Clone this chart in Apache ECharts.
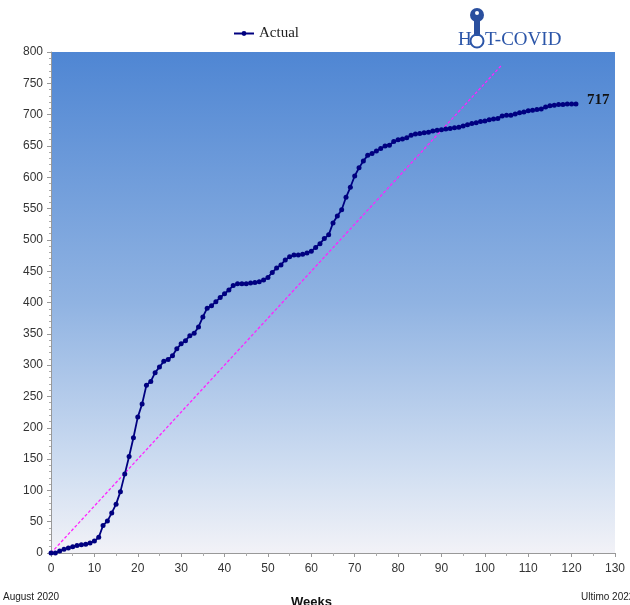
<!DOCTYPE html>
<html>
<head>
<meta charset="utf-8">
<script src="https://cdn.jsdelivr.net/npm/echarts@6/dist/echarts.min.js"></script>
<style>html,body{margin:0;padding:0;background:#fff}#c{width:630px;height:605px}</style>
</head>
<body>
<div id="c"></div>
<script>
var weeks = [];
for (var i = 0; i <= 121; i++) weeks.push(i);
var actual = [0,0,3,6,8,10,12,13,14,16,
  19,25,44,51,64,78,98,126,154,184,
  217,238,268,274,288,297,306,309,315,326,
  334,339,347,351,361,377,391,395,401,408,
  414,420,427,430,430,430,431,432,433,436,
  440,448,455,460,468,473,476,476,477,479,
  482,488,494,502,508,527,538,548,568,584,
  602,615,626,635,638,642,646,650,651,657,
  660,661,663,667,669,670,671,672,674,675,
  676,677,678,679,680,682,684,686,687,689,
  690,692,693,694,698,699,699,701,703,704,
  706,707,708,709,712,714,715,716,716,717,
  717,717];
var trendX = [0, 104];
var trendY = [0, 780];
var xTicks = {min: 0, max: 130, interval: 10};
var yTicks = {min: 0, max: 800, interval: 50};

var chart = echarts.init(document.getElementById('c'));
chart.setOption({
  animation: false,
  grid: {left: 51, top: 52, right: 15, bottom: 52, show: true, borderWidth: 0,
    backgroundColor: {type: 'linear', x: 0, y: 0, x2: 0, y2: 1,
      colorStops: [{offset: 0, color: '#4f86d3'}, {offset: 0.5, color: '#90b3e2'}, {offset: 0.85, color: '#d3e0f2'}, {offset: 1, color: '#f2f2f7'}]}},
  legend: {data: ['Actual'], left: 228, top: 21, itemWidth: 20, itemHeight: 6, itemGap: 2,
    textStyle: {fontFamily: 'Liberation Serif', fontSize: 15, color: '#222'}},
  xAxis: {type: 'value', min: xTicks.min, max: xTicks.max, interval: xTicks.interval,
    axisLine: {lineStyle: {color: '#999'}}, axisTick: {show: true, length: 4, lineStyle: {color: '#999'}},
    minorTick: {show: true, splitNumber: 2, length: 3, lineStyle: {color: '#aaa'}},
    splitLine: {show: false},
    axisLabel: {fontFamily: 'Liberation Sans', fontSize: 12, color: '#333', margin: 10}},
  yAxis: {type: 'value', min: yTicks.min, max: yTicks.max, interval: yTicks.interval,
    axisLine: {show: true, lineStyle: {color: '#999'}}, axisTick: {show: true, length: 4, lineStyle: {color: '#999'}},
    minorTick: {show: true, splitNumber: 5, length: 2, lineStyle: {color: '#aaa'}},
    splitLine: {show: false},
    axisLabel: {fontFamily: 'Liberation Sans', fontSize: 12, color: '#333', margin: 8}},
  series: [
    {name: 'Trend', type: 'line', data: trendX.map(function (x, i) { return [x, trendY[i]]; }),
      showSymbol: false, symbol: 'none', lineStyle: {color: '#ff22ff', width: 1.3, type: [3, 2]}, z: 1, silent: true},
    {name: 'Actual', type: 'line', data: weeks.map(function (w, i) { return [w, actual[i]]; }),
      symbol: 'circle', symbolSize: 5, itemStyle: {color: '#000080'},
      lineStyle: {color: '#000080', width: 1.8}, z: 2,
      endLabel: {show: true, formatter: function (p) { return p.value[1]; }, distance: 11, offset: [0, -4],
        fontFamily: 'Liberation Serif', fontWeight: 'bold', fontSize: 15, color: '#111'}}
  ],
  graphic: [
    {type: 'text', left: 458, top: 31, style: {text: 'H', font: '19px "Liberation Serif"', fill: '#2b55a8'}},
    {type: 'text', left: 485, top: 31, style: {text: 'T-COVID', font: '19px "Liberation Serif"', fill: '#2b55a8'}},
    {type: 'circle', shape: {cx: 477, cy: 15, r: 7}, style: {fill: '#2a4f9e'}},
    {type: 'rect', shape: {x: 474, y: 19, width: 6, height: 17}, style: {fill: '#2a4f9e'}},
    {type: 'circle', shape: {cx: 477, cy: 41, r: 6.5}, style: {fill: 'none', stroke: '#2b55a8', lineWidth: 2}},
    {type: 'circle', shape: {cx: 477, cy: 13, r: 2}, style: {fill: '#ffffff'}},
    {type: 'text', left: 3, top: 592, style: {text: 'August 2020', font: '10px "Liberation Sans"', fill: '#222'}},
    {type: 'text', left: 291, top: 596, style: {text: 'Weeks', font: 'bold 13px "Liberation Sans"', fill: '#111'}},
    {type: 'text', left: 581, top: 592, style: {text: 'Ultimo 2022', font: '10px "Liberation Sans"', fill: '#222'}}
  ]
});
</script>
</body>
</html>
